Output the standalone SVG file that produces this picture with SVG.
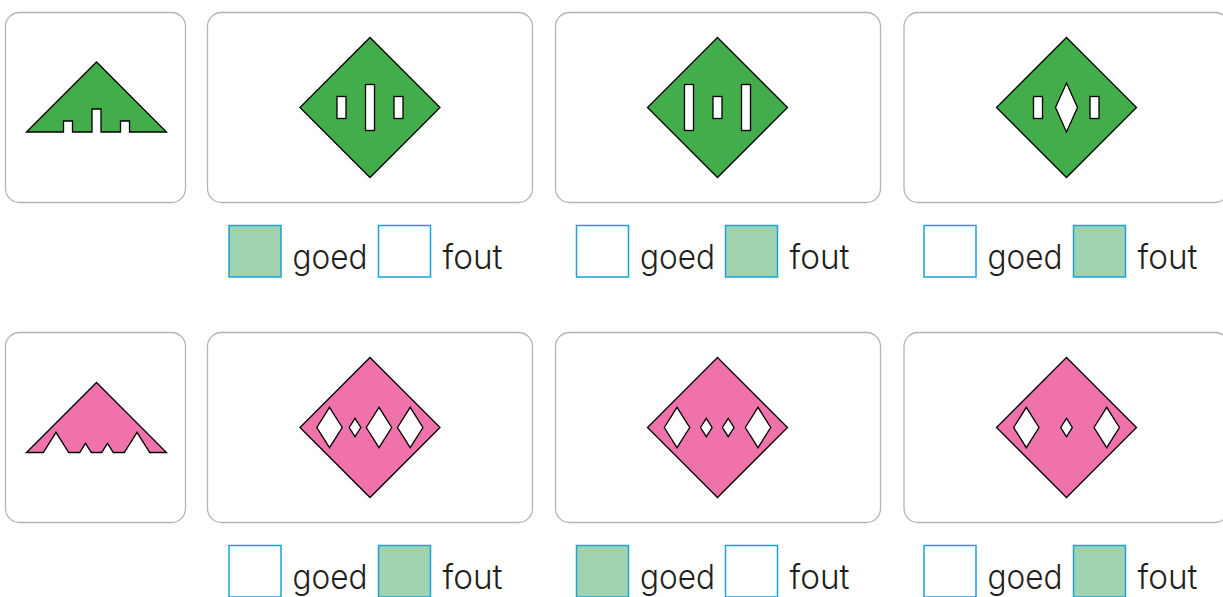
<svg xmlns="http://www.w3.org/2000/svg" xmlns:xlink="http://www.w3.org/1999/xlink" width="1223" height="597" viewBox="0 0 1223 597">
<style>
.card{fill:#fff;stroke:#b4b4b4;stroke-width:1.3}
.g{fill:#42ad4a;stroke:#000;stroke-width:1.3;stroke-linejoin:miter}
.p{fill:#f072aa;stroke:#000;stroke-width:1.3;stroke-linejoin:miter}
.h{fill:#fff;stroke:#000;stroke-width:1.3}
.box{fill:#fff;stroke:#1aa2db;stroke-width:1.5}
.on{fill:#9fd3b0}
.lbl{font-family:Inter,"Noto Sans","Liberation Sans",sans-serif;font-size:34px;font-weight:300;fill:#231f20}
</style>
<defs>
<path id="dia" d="M0,-70 L70,0 L0,70 L-70,0Z"/>
<path id="big" d="M-12.7,0 L0,-20.2 L12.7,0 L0,20.2Z"/>
<path id="sml" d="M-5.8,0 L0,-9.2 L5.8,0 L0,9.2Z"/>
<rect id="rs" x="-4.5" y="-11" width="9" height="22"/>
<rect id="rt" x="-4.5" y="-23" width="9" height="46"/>
</defs>

<!-- Row 1 -->
<g id="ref-green">
<rect class="card" x="5.5" y="12.5" width="180" height="190" rx="14"/>
<path class="g" d="M26.5,132 L96.5,62 L166.5,132 L129.5,132 L129.5,121 L120.5,121 L120.5,132 L101,132 L101,109 L92,109 L92,132 L72.5,132 L72.5,121 L63.5,121 L63.5,132 Z"/>
</g>

<g id="green-1">
<rect class="card" x="207.5" y="12.5" width="325" height="190" rx="14"/>
<use href="#dia" class="g" x="370" y="107.5"/>
<use href="#rs" class="h" x="341.5" y="107.5"/>
<use href="#rt" class="h" x="370" y="107.5"/>
<use href="#rs" class="h" x="398.5" y="107.5"/>
</g>

<g id="green-2">
<rect class="card" x="555.5" y="12.5" width="325" height="190" rx="14"/>
<use href="#dia" class="g" x="717.5" y="107.5"/>
<use href="#rt" class="h" x="689" y="107.5"/>
<use href="#rs" class="h" x="717.5" y="107.5"/>
<use href="#rt" class="h" x="746" y="107.5"/>
</g>

<g id="green-3">
<rect class="card" x="904" y="12.5" width="325" height="190" rx="14"/>
<use href="#dia" class="g" x="1066.5" y="107.5"/>
<use href="#rs" class="h" x="1038" y="107.5"/>
<path class="h" d="M1066.5,83 L1077.5,107.5 L1066.5,132 L1055.5,107.5Z"/>
<use href="#rs" class="h" x="1094.5" y="107.5"/>
</g>

<g id="answer-green-1">
<rect class="box on" x="229" y="225.5" width="52" height="51.5"/>
<text class="lbl" x="292.5" y="268.5" textLength="75" lengthAdjust="spacingAndGlyphs">goed</text>
<rect class="box" x="378.5" y="225.5" width="52" height="51.5"/>
<text class="lbl" x="442.5" y="268.5" textLength="60" lengthAdjust="spacingAndGlyphs">fout</text>
</g>
<g id="answer-green-2">
<rect class="box" x="576.5" y="225.5" width="52" height="51.5"/>
<text class="lbl" x="640" y="268.5" textLength="75" lengthAdjust="spacingAndGlyphs">goed</text>
<rect class="box on" x="725.5" y="225.5" width="52" height="51.5"/>
<text class="lbl" x="789.5" y="268.5" textLength="60" lengthAdjust="spacingAndGlyphs">fout</text>
</g>
<g id="answer-green-3">
<rect class="box" x="924" y="225.5" width="52" height="51.5"/>
<text class="lbl" x="987.5" y="268.5" textLength="75" lengthAdjust="spacingAndGlyphs">goed</text>
<rect class="box on" x="1073.5" y="225.5" width="52" height="51.5"/>
<text class="lbl" x="1137.5" y="268.5" textLength="60" lengthAdjust="spacingAndGlyphs">fout</text>
</g>

<!-- Row 2 -->
<g id="ref-pink">
<rect class="card" x="5.5" y="332.5" width="180" height="190" rx="14"/>
<path class="p" d="M26.5,452.5 L96.5,382.5 L166.5,452.5 L149.7,452.5 L137,432.3 L124.3,452.5 L113.3,452.5 L107.5,443.3 L101.7,452.5 L91.3,452.5 L85.5,443.3 L79.7,452.5 L68.7,452.5 L56,432.3 L43.3,452.5 Z"/>
</g>

<g id="pink-1">
<rect class="card" x="207.5" y="332.5" width="325" height="190" rx="14"/>
<use href="#dia" class="p" x="370" y="427.5"/>
<use href="#big" class="h" x="329.5" y="427.5"/>
<use href="#sml" class="h" x="355" y="427.5"/>
<use href="#big" class="h" x="379" y="427.5"/>
<use href="#big" class="h" x="410.2" y="427.5"/>
</g>

<g id="pink-2">
<rect class="card" x="555.5" y="332.5" width="325" height="190" rx="14"/>
<use href="#dia" class="p" x="717.5" y="427.5"/>
<use href="#big" class="h" x="677" y="427.5"/>
<use href="#sml" class="h" x="706.3" y="427.5"/>
<use href="#sml" class="h" x="728.2" y="427.5"/>
<use href="#big" class="h" x="758" y="427.5"/>
</g>

<g id="pink-3">
<rect class="card" x="904" y="332.5" width="325" height="190" rx="14"/>
<use href="#dia" class="p" x="1066.5" y="427.5"/>
<use href="#big" class="h" x="1026.3" y="427.5"/>
<use href="#sml" class="h" x="1066.5" y="427.5"/>
<use href="#big" class="h" x="1106.7" y="427.5"/>
</g>

<g id="answer-pink-1">
<rect class="box" x="229" y="545.5" width="52" height="51.5"/>
<text class="lbl" x="292.5" y="588.5" textLength="75" lengthAdjust="spacingAndGlyphs">goed</text>
<rect class="box on" x="378.5" y="545.5" width="52" height="51.5"/>
<text class="lbl" x="442.5" y="588.5" textLength="60" lengthAdjust="spacingAndGlyphs">fout</text>
</g>
<g id="answer-pink-2">
<rect class="box on" x="576.5" y="545.5" width="52" height="51.5"/>
<text class="lbl" x="640" y="588.5" textLength="75" lengthAdjust="spacingAndGlyphs">goed</text>
<rect class="box" x="725.5" y="545.5" width="52" height="51.5"/>
<text class="lbl" x="789.5" y="588.5" textLength="60" lengthAdjust="spacingAndGlyphs">fout</text>
</g>
<g id="answer-pink-3">
<rect class="box" x="924" y="545.5" width="52" height="51.5"/>
<text class="lbl" x="987.5" y="588.5" textLength="75" lengthAdjust="spacingAndGlyphs">goed</text>
<rect class="box on" x="1073.5" y="545.5" width="52" height="51.5"/>
<text class="lbl" x="1137.5" y="588.5" textLength="60" lengthAdjust="spacingAndGlyphs">fout</text>
</g>
</svg>
